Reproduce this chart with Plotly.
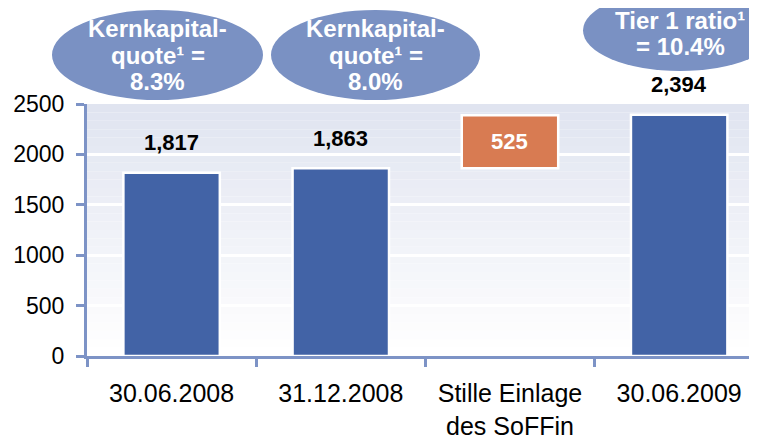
import plotly.graph_objects as go

categories = ["30.06.2008", "31.12.2008", "Stille Einlage<br>des SoFFin", "30.06.2009"]
values = [1817, 1863, 525, 2394]
is_increment = [False, False, True, False]
ratio_labels = [
    ["Kernkapital-", "quote¹ =", "8.3%"],
    ["Kernkapital-", "quote¹ =", "8.0%"],
    None,
    ["Tier 1 ratio¹", "= 10.4%"],
]

BLUE = "#4263a6"
ORANGE = "#d87b52"
AXIS = "#7d93c6"
BUBBLE = "#7a91c3"
FONT = "Liberation Sans, Arial, sans-serif"

# the page body has an 8px margin, so the figure is sized to the visible area
OFF = 8
W, H = 757 - OFF, 439 - OFF
L, T, B = 87 - OFF, 104 - OFF, 83
PW, PH = W - L, H - T - B


def px(x):
    return (x - OFF - L) / PW


def py(y):
    return (H - B - (y - OFF)) / PH


bases = []
for i, (v, inc) in enumerate(zip(values, is_increment)):
    bases.append(values[i - 1] if inc else 0)
colors = [ORANGE if inc else BLUE for inc in is_increment]

fig = go.Figure()
fig.add_trace(go.Bar(
    x=categories, y=values, base=bases,
    marker=dict(color=colors, line=dict(color="white", width=2.5)),
    width=0.57, hoverinfo="skip",
))

# value labels
for cat, v, b, inc in zip(categories, values, bases, is_increment):
    if inc:
        fig.add_annotation(x=cat, y=b + v / 2, text=f"<b>{v:,}</b>", showarrow=False,
                           font=dict(size=22, color="white", family=FONT))
    else:
        fig.add_annotation(x=cat, y=b + v, text=f"<b>{v:,}</b>", showarrow=False,
                           yshift=30, font=dict(size=22, color="black", family=FONT))

# gradient plot background (stepped bands)
top_rgb = (224, 228, 240)
n = 30
for k in range(n):
    f = k / (n - 1)
    c = tuple(round(top_rgb[j] + (255 - top_rgb[j]) * f) for j in range(3))
    fig.add_shape(type="rect", xref="paper", yref="paper",
                  x0=0, x1=1, y0=1 - (k + 1) / n, y1=1 - k / n,
                  fillcolor="rgb(%d,%d,%d)" % c, line=dict(width=0), layer="below")

# ratio bubbles above the bars
bubbles = {0: (52, 263, 10, 100), 1: (271, 480, 10, 100), 3: (583, 777, -10, 71)}
for i, lines in enumerate(ratio_labels):
    if not lines:
        continue
    x0, x1, y0, y1 = bubbles[i]
    fig.add_shape(type="circle", xref="paper", yref="paper",
                  x0=px(x0), x1=px(x1), y0=py(y1), y1=py(y0),
                  fillcolor=BUBBLE, line=dict(width=0), layer="above")
    cx, cy = (x0 + x1) / 2, (y0 + y1) / 2 + (3 if len(lines) == 2 else 0)
    step = 26.5
    for j, line in enumerate(lines):
        ly = cy + (j - (len(lines) - 1) / 2) * step
        fig.add_annotation(xref="paper", yref="paper", x=px(cx), y=py(ly),
                           text=f"<b>{line}</b>", showarrow=False,
                           xanchor="center", yanchor="middle",
                           font=dict(size=24, color="white", family=FONT))

fig.update_layout(
    width=W, height=H,
    margin=dict(l=L, r=0, t=T, b=B, autoexpand=False),
    paper_bgcolor="white", plot_bgcolor="white",
    showlegend=False,
    font=dict(family=FONT, size=23, color="black"),
    xaxis=dict(
        range=[-0.5, 3.46], showgrid=False, zeroline=False, automargin=False,
        showline=True, linecolor=AXIS, linewidth=3,
        ticks="outside", tickson="boundaries", ticklen=8, tickwidth=3, tickcolor=AXIS,
        tickfont=dict(size=25, family=FONT, color="black"),
        ticklabelstandoff=13,
    ),
    yaxis=dict(
        range=[0, 2500], dtick=500, showgrid=True, gridcolor="white", gridwidth=3,
        zeroline=False, showline=True, linecolor=AXIS, linewidth=3, automargin=False,
        ticks="outside", ticklen=8, tickwidth=3, tickcolor=AXIS,
        tickfont=dict(size=23, family=FONT, color="black"),
        ticklabelstandoff=7,
    ),
)

fig.write_html("out.html")
